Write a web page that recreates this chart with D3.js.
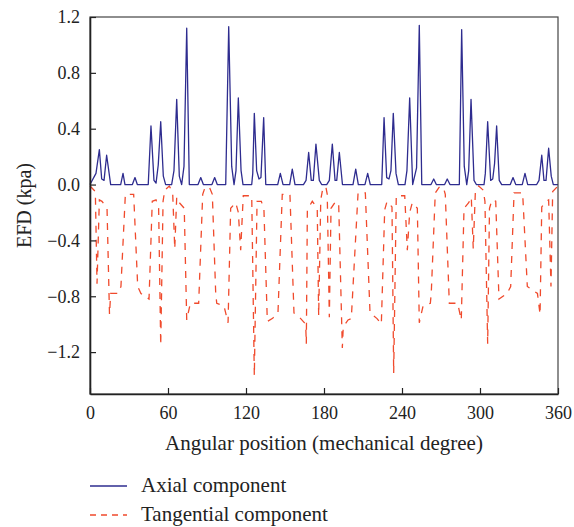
<!DOCTYPE html>
<html>
<head>
<meta charset="utf-8">
<script src="https://cdnjs.cloudflare.com/ajax/libs/d3/7.8.5/d3.min.js"></script>
<style>
  body { margin: 0; background: #fff; }
  svg text { font-family: "Liberation Serif", "DejaVu Serif", serif; fill: #222; }
</style>
</head>
<body>
<div id="chart"><svg class="diagram"></svg></div>
<script>
// axial component: breakpoints (angle in degrees, EFD in kPa)
var axialDeg = [0, 4.6, 7.2, 9.0, 10.8, 12.8, 15.9, 23.6, 25.4, 26.9, 32.6, 34.6, 36.4,
  44.8, 46.9, 49.2, 50.8, 52.5, 54.4, 56.4, 58.2, 62.8, 64.6, 66.7, 68.7, 70.5, 72.3, 74.4, 76.4,
  83.1, 85.2, 87.2, 93.8, 95.9, 97.9, 104.4, 106.7, 109.0, 110.8, 112.3, 114.1, 116.2, 117.7,
  124.4, 125.2, 126.4, 128.2, 130.0, 131.5, 133.6, 135.2, 144.4, 146.4, 148.5, 153.6, 155.6, 157.7,
  164.2, 166.2, 168.2, 170.2, 171.8, 173.8, 176.4, 178.2, 182.1, 184.1, 186.4, 188.5, 189.8, 191.8, 194.2,
  202.3, 204.4, 206.4, 211.5, 213.6, 215.6, 224.4, 226.2, 228.2, 230.0, 231.5, 233.3, 235.4, 237.2,
  242.3, 243.8, 245.9, 248.2, 251.2, 253.3, 255.2, 262.3, 264.4, 266.4, 272.8, 274.8, 276.9,
  284.1, 285.9, 287.9, 289.8, 291.3, 293.1, 295.4, 297.2, 303.1, 304.1, 305.9, 308.2, 309.8, 311.2,
  312.8, 314.8, 316.7, 323.3, 325.4, 327.5, 332.5, 334.6, 336.7, 343.6, 345.4, 347.5, 349.2, 350.8,
  352.8, 354.8, 356.4, 360];
var axialVal = [0, 0.08, 0.25, 0.04, 0.03, 0.21, 0, 0, 0.08, 0, 0, 0.05, 0,
  0, 0.42, 0.03, 0.01, 0.14, 0.45, 0.06, 0, 0, 0.10, 0.61, 0.06, 0, 0.13, 1.12, 0,
  0, 0.05, 0, 0, 0.05, 0, 0, 1.13, 0.13, 0, 0.10, 0.62, 0.10, 0,
  0, 0.08, 0.51, 0.10, 0.04, 0.05, 0.48, 0, 0, 0.08, 0, 0, 0.11, 0,
  0, 0.03, 0.23, 0.03, 0.03, 0.29, 0.03, 0, 0, 0.03, 0.29, 0.03, 0.03, 0.23, 0,
  0, 0.11, 0, 0, 0.08, 0, 0, 0.48, 0.05, 0.04, 0.10, 0.51, 0.08, 0,
  0, 0.10, 0.62, 0, 0.12, 1.14, 0, 0, 0.04, 0, 0, 0.04, 0,
  0, 1.11, 0.13, 0, 0.10, 0.61, 0.03, 0, 0, 0.08, 0.45, 0.03, 0.04, 0.15,
  0.42, 0.03, 0, 0, 0.05, 0, 0, 0.08, 0, 0, 0.03, 0.21, 0.03, 0.03,
  0.26, 0.06, 0, 0];

// tangential component breakpoints
var tangDeg = [0, 4.1, 5.4, 7.2, 9.2, 13.1, 15.0, 15.9, 21.5, 23.8, 27.2, 33.6, 36.7, 39.2, 45.4,
  47.9, 50.8, 52.8, 54.4, 56.2, 57.5, 61.0, 63.6, 65.2, 66.7, 68.7, 72.5, 74.4, 77.2, 83.6, 86.7,
  88.5, 91.9, 94.1, 96.7, 97.5, 103.1, 106.2, 108.2, 112.1, 114.1, 115.9, 117.9, 124.4, 126.4,
  128.5, 131.8, 133.8, 136.4, 140.2, 144.6, 147.9, 153.8, 156.9, 162.1, 165.9, 166.4, 167.2,
  171.0, 174.8, 175.9, 177.5, 179.2,
  181.5, 182.5, 184.1, 185.4, 189.0, 191.3, 194.1, 194.8, 198.5, 201.0, 206.2, 211.8, 215.4,
  220.8, 224.1, 226.7, 228.5, 232.3, 233.6, 235.6, 242.1, 244.1, 245.9, 247.9, 251.8, 253.3,
  256.2, 261.8, 262.5, 265.6, 268.5, 271.8, 273.3, 276.4, 282.8, 285.6, 287.7, 291.3, 293.3,
  294.8, 296.4, 299.0, 302.5, 303.8, 305.9, 307.3, 309.2, 312.1, 314.6, 320.8, 323.6, 326.2,
  332.8, 336.4, 344.2, 346.2, 347.5, 350.8, 352.8, 354.6, 355.9, 360];
var tangVal = [-0.01, -0.05, -0.71, -0.11, -0.12, -0.17, -0.93, -0.78, -0.78, -0.73, -0.07, -0.07, -0.73, -0.78, -0.82,
  -0.12, -0.11, -0.17, -1.15, -0.12, -0.04, -0.01, -0.06, -0.46, -0.09, -0.13, -0.17, -0.97, -0.85, -0.85, -0.07,
  -0.02, -0.02, -0.07, -0.78, -0.85, -0.87, -0.99, -0.17, -0.13, -0.20, -0.47, -0.08, -0.08, -1.37,
  -0.12, -0.12, -0.18, -0.98, -0.96, -0.92, -0.07, -0.07, -0.92, -0.96, -1.00, -1.14, -0.18,
  -0.12, -0.17, -0.94, -0.11, -0.02,
  -0.02, -0.07, -0.95, -0.17, -0.12, -0.14, -1.17, -1.02, -0.97, -0.96, -0.06, -0.06, -0.92,
  -0.96, -1.00, -0.18, -0.12, -0.16, -1.35, -0.08, -0.08, -0.47, -0.20, -0.13, -0.17, -0.99,
  -0.87, -0.85, -0.78, -0.06, -0.02, -0.02, -0.07, -0.85, -0.85, -0.97, -0.17, -0.13, -0.09,
  -0.46, -0.06, -0.01, -0.04, -0.12, -1.14, -0.17, -0.11, -0.12, -0.82, -0.78, -0.73, -0.06,
  -0.06, -0.73, -0.78, -0.93, -0.16, -0.12, -0.11, -0.73, -0.05, -0.01];

var xTicks = [0, 60, 120, 180, 240, 300, 360];
var yTicks = [1.2, 0.8, 0.4, 0.0, -0.4, -0.8, -1.2];
var seriesNames = ["Axial component", "Tangential component"];
var seriesColors = ["#2e2c8f", "#f04a2c"];

function drawChart(mydiv) {
    var div = d3.select('#' + mydiv);
    var svg = div.select("svg");
    var width = 574, height = 527;
    svg.attr("width", width).attr("height", height);
    svg.margin = {top: 17, right: 16, bottom: 133, left: 90};

    var x = d3.scaleLinear().domain([0, 360]).range([svg.margin.left, width - svg.margin.right]);
    var y = d3.scaleLinear().domain([-1.5, 1.2]).range([height - svg.margin.bottom, svg.margin.top]);

    var line = d3.line().x(function(d){ return x(d[0]); }).y(function(d){ return y(d[1]); });
    var axial = axialDeg.map(function(d, i){ return [d, axialVal[i]]; });
    var tang = tangDeg.map(function(d, i){ return [d, tangVal[i]]; });

    svg.append("path").datum(tang)
        .attr("d", line).attr("fill", "none")
        .attr("stroke", seriesColors[1]).attr("stroke-width", 1.3)
        .attr("stroke-dasharray", "7,7");

    svg.append("path").datum(axial)
        .attr("d", line).attr("fill", "none")
        .attr("stroke", seriesColors[0]).attr("stroke-width", 1.3)
        .attr("stroke-linejoin", "round");

    // frame
    svg.append("rect")
        .attr("x", x(0)).attr("y", y(1.2))
        .attr("width", x(360) - x(0)).attr("height", y(-1.5) - y(1.2))
        .attr("fill", "none").attr("stroke", "#444").attr("stroke-width", 1.2);

    var xAxis = d3.axisBottom(x).tickValues(xTicks).tickSizeInner(-6).tickSizeOuter(0).tickPadding(12);
    var gx = svg.append("g").attr("transform", "translate(0," + y(-1.5) + ")").call(xAxis);

    var yAxis = d3.axisLeft(y).tickValues(yTicks).tickSizeInner(-6).tickSizeOuter(0).tickPadding(10)
        .tickFormat(d3.format(".1f"));
    var gy = svg.append("g").attr("transform", "translate(" + x(0) + ",0)").call(yAxis);

    [gx, gy].forEach(function(g){
        g.select(".domain").attr("stroke", "#222").attr("stroke-width", 1.6);
        g.selectAll(".tick line").attr("stroke", "#222").attr("stroke-width", 1.2);
        g.selectAll(".tick text").style("font-family", "Liberation Serif, serif")
            .style("font-size", "18px").attr("fill", "#222");
    });

    svg.append("text")
        .attr("x", (x(0) + x(360)) / 2).attr("y", y(-1.5) + 56)
        .attr("text-anchor", "middle").style("font-size", "21px")
        .text("Angular position (mechanical degree)");

    svg.append("text")
        .attr("transform", "translate(31," + ((y(1.2) + y(-1.5)) / 2) + ") rotate(-90)")
        .attr("text-anchor", "middle").style("font-size", "20px")
        .text("EFD (kpa)");

    // legend
    var leg = svg.append("g");
    seriesNames.forEach(function(name, i){
        var ly = 486 + i * 29;
        leg.append("line").attr("x1", 90).attr("x2", 127).attr("y1", ly).attr("y2", ly)
            .attr("stroke", seriesColors[i]).attr("stroke-width", 1.3)
            .attr("stroke-dasharray", i === 1 ? "6,5" : null);
        leg.append("text").attr("x", 141).attr("y", ly + 6).style("font-size", "21px").text(name);
    });
}

drawChart("chart");
</script>
</body>
</html>
